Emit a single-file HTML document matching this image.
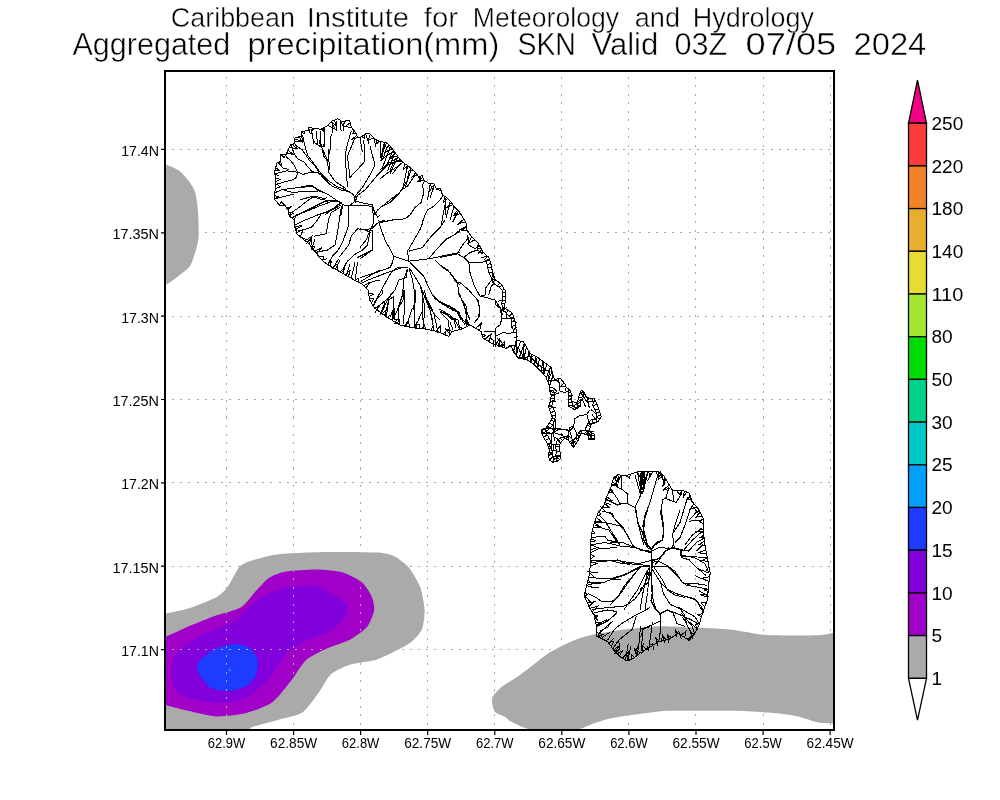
<!DOCTYPE html><html><head><meta charset="utf-8"><style>html,body{margin:0;padding:0;background:#fff;width:1000px;height:800px;overflow:hidden}svg{display:block}text{font-family:"Liberation Sans",sans-serif;fill:#000}</style></head><body>
<svg width="1000" height="800" viewBox="0 0 1000 800" style="will-change:transform">
<defs><clipPath id="fr"><rect x="165" y="71" width="669" height="659"/></clipPath></defs>
<rect width="1000" height="800" fill="#fff"/>
<g clip-path="url(#fr)">
<path d="M150,165 C151.9,151.1 163.1,164.3 166.5,165 C169.9,165.7 176.3,168.8 178.8,170.6 C181.3,172.3 186.1,177.6 188,180 C189.9,182.4 193.6,188 194.7,191 C195.8,194 197.1,202.5 197.5,206 C197.9,209.5 198.4,217.3 198.5,221 C198.6,224.7 198.8,234.5 198.5,238 C198.2,241.5 196.6,247.7 195.6,251 C194.6,254.3 192,263.1 190,266 C188,268.9 181.5,273.6 178.8,275.7 C176.1,277.8 169.9,283 166.5,284 C163.1,285 151.9,297.9 150,284 C148.1,270.1 148.1,178.9 150,165Z" fill="#aaaaaa"/>
<path d="M150,616 C151.9,601.2 161.8,614.3 166.2,613.4 C170.6,612.5 182.2,610.5 188,608.6 C193.8,606.7 211.4,599.9 216,597.4 C220.6,594.9 224.4,591.2 227.2,587.6 C230,584 236.5,569.9 239.8,566.6 C243.1,563.3 250.5,561.1 255.2,559.6 C259.9,558.1 271.9,554.9 280.4,554 C288.9,553.1 316.6,552.2 328,552 C339.4,551.8 370.6,552 378.4,552.6 C386.2,553.2 391.6,555 395.2,556.8 C398.8,558.6 406.3,564.4 409.2,568 C412.1,571.6 418.6,582.7 420.4,587.6 C422.2,592.5 424.4,605.1 424.6,610 C424.8,614.9 423.6,625.7 421.8,629.6 C420,633.5 414.3,640.2 409.2,643.6 C404.1,647 385.3,656.5 378.4,659 C371.5,661.5 356,662.8 350.4,664.6 C344.8,666.4 334.4,671.3 330.8,674.4 C327.2,677.5 322.9,686.8 319.6,691.2 C316.3,695.6 307.4,708.9 302.8,712.2 C298.2,715.5 286.3,717.5 280.4,719.2 C274.5,720.9 257.1,725.2 252.4,727 C247.7,728.8 251.9,733.5 240,735 C228.1,736.5 160.5,753.9 150,740 C139.5,726.1 148.1,630.8 150,616Z" fill="#aaaaaa"/>
<path d="M150,642 C151.9,634.6 161.8,638.4 166.2,636.6 C170.6,634.8 182.2,629.2 188,626.8 C193.8,624.3 209.8,617.9 216,615.6 C222.2,613.3 236.6,610 241.2,607.2 C245.8,604.4 251.9,595.2 255.2,591.8 C258.5,588.4 265.6,580.2 269.2,577.8 C272.8,575.4 280.4,572.4 286,571.4 C291.6,570.4 310.3,569.3 316.8,569.4 C323.3,569.5 336.8,570.7 342,572.2 C347.2,573.7 358.2,579.2 361.6,582 C365,584.8 369.9,592.7 371.4,596 C372.9,599.3 374.7,606.4 374.2,610 C373.7,613.6 370,623.4 367.2,626.8 C364.4,630.2 355.3,636.8 350.4,639.4 C345.5,642 330.4,646.8 325.2,649.2 C320,651.7 309.5,656.8 305.6,660.4 C301.7,664 295.5,675.1 291.6,680 C287.7,684.9 277.6,698.5 272,702.4 C266.4,706.3 250.5,712 244,713.6 C237.5,715.2 222.5,716.7 216,716.4 C209.5,716.1 193.8,712.1 188,710.8 C182.2,709.5 170.6,706.5 166.2,705.2 C161.8,703.9 151.9,707.4 150,700 C148.1,692.6 148.1,649.4 150,642Z" fill="#a000c8"/>
<path d="M318,586.4 C324.9,588.3 343.5,600.4 346.6,604 C349.7,607.6 346.2,614.1 344.4,617.2 C342.6,620.3 335.8,627.6 331.2,630.4 C326.6,633.2 309.9,638.8 304.8,641.4 C299.7,644 290.3,649.6 287.2,652.4 C284.1,655.2 281,662 278.4,665.6 C275.8,669.2 268.8,679.6 265.2,683.2 C261.6,686.8 252.2,694.1 247.6,696.4 C243,698.7 231.2,702.5 225.6,703 C220,703.5 204.8,702.1 199.2,700.8 C193.6,699.5 180.4,695.1 177.2,692 C174,688.9 172,678.8 171.7,674.4 C171.4,670 172.8,658.5 175,654.6 C177.2,650.8 186,644.2 190.4,641.4 C194.8,638.6 207,633 212.4,630.4 C217.8,627.8 232,622.5 236.6,619.4 C241.2,616.3 248.2,607.1 252,604 C255.8,600.9 265.5,594.9 269.6,593 C273.7,591.1 281.6,588.3 287.2,587.5 C292.8,586.7 311.1,584.5 318,586.4Z" fill="#8200dc"/>
<path d="M214.6,649.1 C218.7,647.1 230.3,644.1 234.4,644 C238.5,643.9 247.1,646.2 249.8,648 C252.5,649.8 256.7,655.9 257.5,659 C258.3,662.1 257.6,671.3 256.4,674.4 C255.2,677.5 250.7,683.5 247.6,685.4 C244.5,687.3 234.4,690.7 230,691 C225.6,691.3 213.9,689.8 210.2,687.6 C206.5,685.4 199.4,675.3 198.1,672.2 C196.8,669.1 197.3,663.9 199.2,661.2 C201.1,658.5 210.5,651.1 214.6,649.1Z" fill="#1e3cff"/>
<path d="M228,670.5 C228,670.1 229.2,668.2 229.5,668 C229.8,667.8 230.8,668.6 231,669 C231.2,669.4 231.2,670.7 231,671 C230.8,671.3 229.8,671.6 229.5,671.5 C229.2,671.4 228,670.9 228,670.5Z" fill="#2a78ff"/>
<path d="M492.1,698.3 C492.9,695.4 499.2,689 502,686.6 C504.8,684.2 513,679.9 516.4,677.6 C519.8,675.3 527.2,669.5 530.8,666.8 C534.4,664.1 543.2,656.7 547,654.2 C550.8,651.7 559.6,647 563.2,645.2 C566.8,643.4 573.8,640.2 577.6,638.9 C581.4,637.6 590.6,635 595.6,634 C600.6,633 614.9,630.7 620.8,629.9 C626.7,629.1 641,627.6 646,627.2 C651,626.8 657.1,626.2 664,626.3 C670.9,626.4 697.1,627.6 705,628 C712.9,628.4 726.3,629.2 732,629.8 C737.7,630.4 749,632.8 753.6,633.4 C758.2,634 764,635 771.6,635.2 C779.2,635.4 811.3,635.5 818.4,635.2 C825.5,634.9 829.1,633.4 832.8,633 C836.5,632.6 848,621.4 850,632 C852,642.6 852,713.3 850,724 C848,734.7 836.5,723.6 832.8,723.4 C829.1,723.2 822.6,723.3 818.4,722.5 C814.2,721.7 802.7,717.4 796.8,716.2 C790.9,715 775.6,713.2 768,712.6 C760.4,712 742.1,711 732,710.8 C721.9,710.6 689.5,710.8 681.6,710.8 C673.7,710.8 670.3,710.4 664,710.9 C657.7,711.4 634.3,714.5 628,715.4 C621.7,716.3 614.2,717.5 610,718.5 C605.8,719.5 595.5,722.8 592,724 C588.5,725.2 583.7,728 580,729 C576.3,730 564.7,732.5 560,733 C555.3,733.5 543.7,733.5 540,733 C536.3,732.5 530.3,729.8 528,729 C525.7,728.2 522.1,726.9 520,726 C517.9,725.1 511.7,722 510,721 C508.3,720 507.4,718.3 505.6,717.2 C503.8,716.1 496.4,714 494.8,711.8 C493.2,709.6 491.3,701.2 492.1,698.3Z" fill="#aaaaaa"/>
</g>
<path d="M226.5,76.5V730M293.5,76.5V730M360.5,76.5V730M427.5,76.5V730M494.5,76.5V730M561.5,76.5V730M628.5,76.5V730M695.5,76.5V730M763.5,76.5V730M830.5,76.5V730" stroke="#aaaaaa" stroke-width="1" stroke-dasharray="2 6.5" fill="none" shape-rendering="crispEdges"/>
<path d="M172,149.5H834M172,232.5H834M172,316.5H834M172,399.5H834M172,482.5H834M172,566.5H834M172,649.5H834" stroke="#aaaaaa" stroke-width="1" stroke-dasharray="2 6.2" fill="none" shape-rendering="crispEdges"/>
<g fill="none" stroke="#000" stroke-width="1" shape-rendering="crispEdges">
<polygon points="331.5,121.4 337.6,118.7 342,121.4 349.6,120.5 351.4,127.5 355.7,132.7 357.5,137.1 361,137.1 366.2,133.6 369.7,133.6 375,138.9 379.4,141.5 386.4,142.4 389,145 394.2,151.1 399.5,159 403,162.5 408.2,166 414.4,171.2 418.7,176.6 422.2,175.7 424,180.1 429.2,183.6 433.6,183.6 436.2,188 440.6,188 442.4,195 446.7,197.6 450.2,201.1 454.6,207.2 459,211.6 462.5,216.9 466,223 466.9,230 471,236 477.9,242.9 483.4,252.5 488.9,258 491.6,266.3 493,275.9 495.8,280 501.3,284.1 505.4,291 505.4,300.7 504,307.5 512.3,313 515,321.3 517,336.4 516.2,340.5 523.2,341.4 526.7,347.5 530.2,353.6 537.2,357.1 544.2,362.4 551.2,367.6 553,375.5 554.7,379.9 560,378.1 565.2,384.2 565.6,385 566.2,387.5 570,390 571.2,393.8 571.9,400 572.5,406.7 577,407.4 577.7,401.5 578.8,396.2 581.2,390.6 583.8,391.2 585,394.4 586.8,397.6 594.6,398.9 597.2,404.8 599.8,411.9 601.1,416.5 598.5,421 594.6,423 590.7,424.3 589.4,431.4 594,434 594.6,439.2 588.1,439.9 588.1,435.3 582.3,433.4 580.6,434 578.2,440 575.2,444.8 573.4,447.2 571,444.2 568.6,440.6 565,438.2 560.2,443 559.6,446 560.2,455 560.2,458.6 557.2,461.6 552.4,462.2 549.4,459.8 548.2,455 549.4,450.2 547,443 543.4,437 541.6,433.4 541.6,429.8 545.8,428 547.8,425.6 552.4,417.8 549.8,410 548.5,406.7 550.4,401.5 551.2,396.2 550,391.2 549.5,386 546,377.2 540.7,371.1 533.7,364.1 526.7,359.7 518,358 513.6,351.9 511,345.7 505.7,348.4 491,342.9 482.9,338 481.2,331.5 469.9,325 461.7,329.1 452,331.5 448.7,336.4 437.4,331.5 426,329.1 416.2,328.2 406.5,326.6 400,325 390.7,319.4 381,312.9 374.5,308 369.6,299.9 368,290.1 361.5,283.6 355,280.4 343.6,273.9 332.2,267.4 322.5,260.9 314.4,251.1 308.5,243.2 304,239.9 297.2,234.2 295,227.5 293.9,219.6 289.4,216.2 288.2,210.6 284.9,205 279.2,205 274.7,199.4 274.7,193.7 275.9,182.5 274.6,171.2 277.2,162.5 280.7,161.6 280.7,154.6 286,154.6 290.4,145 293.9,144.1 294.7,138 301.7,136.2 301.7,131.9 308.7,130.1 308.7,127.5 314,128.4 321,129.2 326.2,126.6"/>
<polygon points="617.8,474.8 626.2,475.5 634.6,472.7 640.2,471.3 658.4,471.3 664,476.2 668.2,483.2 672.4,490.2 683.6,490.9 689.2,493 692,501.4 699,509.8 703.2,518.2 703.2,529.4 704.6,543.4 706.7,554.6 710.2,573.2 708.8,583 707.4,599.8 703.2,611 699,625 694.8,633.4 689.2,640.4 678,633.4 669.6,639 658.4,641.8 647.2,648.8 640.2,653 633.2,658.6 627.6,660.7 620.6,657.2 613.6,650.2 608,641.8 596.8,636.2 596.8,627.8 594,615.2 589.8,608.2 584.2,595.6 589.8,573.2 590.5,555 590.5,549 591.2,535 594,523.8 598.2,512.6 603.8,505.6 606.6,497.2 610.8,487.4 613.6,477.6"/>
<polyline points="516.2,340.5 513.6,351.9"/>
<polyline points="516.2,340.5 516.1,355.4"/>
<polyline points="520.7,341.1 516.1,355.4"/>
<polyline points="524.2,343.2 519.1,358.2"/>
<polyline points="524.2,343.2 523.4,359.1"/>
<polyline points="526.5,347.1 523.4,359.1"/>
<polyline points="528.7,351.1 527.5,360.2"/>
<polyline points="528.7,351.1 531.2,362.5"/>
<polyline points="531.6,354.3 531.2,362.5"/>
<polyline points="535.7,356.4 534.7,365.1"/>
<polyline points="535.7,356.4 537.8,368.2"/>
<polyline points="539.5,358.8 537.8,368.2"/>
<polyline points="543.1,361.6 540.8,371.2"/>
<polyline points="543.1,361.6 543.7,374.5"/>
<polyline points="546.8,364.3 543.7,374.5"/>
<polyline points="550.4,367 546.3,377.9"/>
<polyline points="550.4,367 547.9,382"/>
<polyline points="552,371.1 547.9,382"/>
<polyline points="553,375.5 549.5,386"/>
<polyline points="487.4,256.5 484.3,259.5"/>
<polyline points="489.4,259.4 485.6,260.6"/>
<polyline points="490.6,263.4 487.2,264.5"/>
<polyline points="491.7,267.1 487.6,267.7"/>
<polyline points="492.4,272 489,272.5"/>
<polyline points="493.2,276.2 491.1,277.6"/>
<polyline points="495.7,279.8 492.5,282"/>
<polyline points="499.6,282.9 497.1,286.2"/>
<polyline points="502.1,285.4 499.3,287"/>
<polyline points="504.3,289.1 502.1,290.4"/>
<polyline points="505.4,292.7 502.6,292.7"/>
<polyline points="505.4,296 502.8,296"/>
<polyline points="505.4,300.5 502.7,300.5"/>
<polyline points="504.7,303.9 501.5,303.3"/>
<polyline points="504.9,308.1 503.5,310.3"/>
<polyline points="508.2,310.3 506.2,313.3"/>
<polyline points="512.1,312.9 509.8,316.4"/>
<polyline points="513.7,317.3 510.8,318.2"/>
<polyline points="514.9,320.9 511.8,321.9"/>
<polyline points="515.6,325.7 511.2,326.2"/>
<polyline points="516,328.9 513.2,329.3"/>
<polyline points="516.5,332.4 513.6,332.7"/>
<polyline points="484.3,259.5 485.6,260.6 487.2,264.5 487.6,267.7 489,272.5 491.1,277.6 492.5,282 497.1,286.2 499.3,287 502.1,290.4 502.6,292.7 502.8,296 502.7,300.5 501.5,303.3 503.5,310.3 506.2,313.3 509.8,316.4 510.8,318.2 511.8,321.9 511.2,326.2 513.2,329.3 513.6,332.7"/>
<polyline points="569.3,389.5 567.9,391.7"/>
<polyline points="570.8,392.5 568.2,393.3"/>
<polyline points="571.5,396.1 568.9,396.3"/>
<polyline points="571.8,399 569,399.3"/>
<polyline points="572.1,402.2 568.9,402.5"/>
<polyline points="572.4,405.3 568.1,405.7"/>
<polyline points="575.3,407.1 574.9,409.8"/>
<polyline points="577.2,405.6 580.4,406"/>
<polyline points="577.7,401.9 580.3,402.2"/>
<polyline points="578.5,397.3 583,398.2"/>
<polyline points="579.9,393.6 583.1,395"/>
<polyline points="581.2,390.7 583.6,391.8"/>
<polyline points="584.1,392.1 581.3,393.2"/>
<polyline points="586.1,396.3 583.7,397.7"/>
<polyline points="588.4,397.9 587.6,402.2"/>
<polyline points="592.4,398.5 591.9,401.3"/>
<polyline points="595.3,400.6 593.1,401.6"/>
<polyline points="597,404.3 592.9,406.1"/>
<polyline points="598.6,408.7 595,410"/>
<polyline points="599.8,412 596.7,412.9"/>
<polyline points="600.7,415.2 596.8,416.3"/>
<polyline points="599.7,418.9 596.2,416.8"/>
<polyline points="597.4,421.6 596.1,419"/>
<polyline points="593.2,423.5 591.8,419.2"/>
<polyline points="590.3,426.3 586.3,425.6"/>
<polyline points="589.5,430.9 585.6,430.2"/>
<polyline points="591.9,432.8 590.2,435.9"/>
<polyline points="594.2,435.3 591.7,435.6"/>
<polyline points="594.5,438.4 591.5,438.7"/>
<polyline points="591.9,439.5 591.5,435.6"/>
<polyline points="588.1,438.8 591.5,438.8"/>
<polyline points="586.8,434.9 588.2,430.6"/>
<polyline points="582.2,433.4 581.1,430.4"/>
<polyline points="579.9,435.7 577.2,434.6"/>
<polyline points="578.7,438.8 576,437.7"/>
<polyline points="576.6,442.5 573,440.2"/>
<polyline points="574,446.4 571.2,444.3"/>
<polyline points="571.3,444.6 574.6,442.1"/>
<polyline points="569.6,442 572.7,439.9"/>
<polyline points="566,438.9 568.3,435.5"/>
<polyline points="562.7,440.5 560.2,438.1"/>
<polyline points="560.3,442.9 557.4,440"/>
<polyline points="559.6,446.5 555.5,446.7"/>
<polyline points="560,451.4 556.7,451.6"/>
<polyline points="560.2,455.2 555.8,455.2"/>
<polyline points="559.5,459.3 557.5,457.3"/>
<polyline points="557.2,461.6 556.8,458.9"/>
<polyline points="552.4,462.2 555,459"/>
<polyline points="549.8,460.1 552.4,456.9"/>
<polyline points="548.3,455.5 552,454.6"/>
<polyline points="549,451.9 552.5,452.8"/>
<polyline points="548.9,448.8 551.3,448"/>
<polyline points="547.4,444.1 551,442.9"/>
<polyline points="545.5,440.5 549.3,438.2"/>
<polyline points="543.5,437.2 547.2,435"/>
<polyline points="541.6,433 544.5,433"/>
<polyline points="541.9,429.7 543.1,432.5"/>
<polyline points="545.1,428.3 546.5,431.7"/>
<polyline points="547.5,425.9 550.1,428"/>
<polyline points="549.2,423.1 553,425.3"/>
<polyline points="551.1,419.9 554.1,421.7"/>
<polyline points="551.9,416.2 556,414.8"/>
<polyline points="550.7,412.6 554.8,411.2"/>
<polyline points="549.3,408.8 552.6,407.5"/>
<polyline points="549.1,405 551.5,405.9"/>
<polyline points="550.4,401.3 553.2,401.8"/>
<polyline points="550.9,398.4 555,399"/>
<polyline points="551,395.1 554.3,394.3"/>
<polyline points="550,390.8 553.6,390.4"/>
<polyline points="567.9,391.7 568.2,393.3 568.9,396.3 569,399.3 568.9,402.5 568.1,405.7 574.9,409.8 580.4,406 580.3,402.2 583,398.2 583.1,395 583.6,391.8 581.3,393.2 583.7,397.7 587.6,402.2 591.9,401.3 593.1,401.6 592.9,406.1 595,410 596.7,412.9 596.8,416.3 596.2,416.8 596.1,419 591.8,419.2 586.3,425.6 585.6,430.2 590.2,435.9 591.7,435.6 591.5,438.7 591.5,435.6 591.5,438.8 588.2,430.6 581.1,430.4 577.2,434.6 576,437.7 573,440.2 571.2,444.3 574.6,442.1 572.7,439.9 568.3,435.5 560.2,438.1 557.4,440 555.5,446.7 556.7,451.6 555.8,455.2 557.5,457.3 556.8,458.9 555,459 552.4,456.9 552,454.6 552.5,452.8 551.3,448 551,442.9 549.3,438.2 547.2,435 544.5,433 543.1,432.5 546.5,431.7 550.1,428 553,425.3 554.1,421.7 556,414.8 554.8,411.2 552.6,407.5 551.5,405.9 553.2,401.8 555,399 554.3,394.3 553.6,390.4"/>
<polyline points="331.5,121.4 335.3,125.5 334.9,119.9"/>
<polyline points="340.1,120.3 343.1,125.7 345.2,121"/>
<polyline points="350.2,122.9 345,126.7 351.4,127.4"/>
<polyline points="354,130.6 352.9,133.8 356,133.5"/>
<polyline points="356.9,135.6 351.3,139.4 358.6,137.1"/>
<polyline points="361.7,136.7 364.6,138.3 364.1,135"/>
<polyline points="370.4,134.3 367.8,140.5 374,137.9"/>
<polyline points="376.7,139.9 376,144.2 379.5,141.5"/>
<polyline points="383.9,142.1 384.7,147.2 386.7,142.7"/>
<polyline points="389,145 384.8,152.1 392.5,149.1"/>
<polyline points="395.5,153.1 390,158.8 397.3,155.8"/>
<polyline points="399.3,158.7 398.7,161.8 401.8,161.3"/>
<polyline points="404.9,163.8 403.6,169.2 408.1,165.9"/>
<polyline points="410.3,167.7 410.2,171 413.4,170.3"/>
<polyline points="415.6,172.6 412.7,176.7 417.3,174.8"/>
<polyline points="418.4,176.2 420.5,180.4 420.7,176.1"/>
<polyline points="422.8,177 418.5,181.1 424.8,180.6"/>
<polyline points="430.3,183.6 432.5,190 434.2,184.6"/>
<polyline points="439.4,188 436.6,189.7 441.2,190.4"/>
<polyline points="445.1,196.6 443,203 447.5,198.4"/>
<polyline points="451.3,202.6 446.3,207.8 452.8,204.7"/>
<polyline points="457.6,210.2 453.7,215.4 460.3,213.6"/>
<polyline points="463.9,219.4 460,223.3 465.4,221.9"/>
<polyline points="466.4,226.5 459.9,229.8 467.7,231.2"/>
<polyline points="471.7,236.7 468,243.5 474.8,239.8"/>
<polyline points="478.6,244.2 476.5,248 480.9,248.2"/>
<polyline points="481.8,249.6 478.6,253.1 483.2,252.2"/>
<polyline points="555.9,379.5 558.6,382.4 559,378.4"/>
<polyline points="564.3,383.1 560.2,386.9 565.8,385.8"/>
<polyline points="504.1,347.8 504.3,341.7 500.4,346.4"/>
<polyline points="499,345.9 499.9,338.1 495.6,344.6"/>
<polyline points="489.3,341.9 491.2,333.8 485,339.2"/>
<polyline points="482.7,337.3 485.6,335.1 482,334.6"/>
<polyline points="479.7,330.6 481.6,322.9 475.8,328.4"/>
<polyline points="470.4,325.3 465.4,319.7 466.5,326.7"/>
<polyline points="462.4,328.7 459.8,326.8 458.5,329.9"/>
<polyline points="452.1,331.5 444.9,328.5 450.3,334.1"/>
<polyline points="446,335.2 445.8,331.6 442.9,333.9"/>
<polyline points="440,332.6 440.5,325.9 435.9,331.2"/>
<polyline points="433.7,330.7 433.5,325.2 431.1,330.2"/>
<polyline points="425.9,329.1 424.4,325.2 422.2,328.8"/>
<polyline points="416.9,328.3 416.3,324 414.3,327.9"/>
<polyline points="409.9,327.2 408.2,320.8 404.6,326.1"/>
<polyline points="397.9,323.7 398.2,319.5 394.5,321.7"/>
<polyline points="391.9,320.1 393.1,313.4 387.4,317.2"/>
<polyline points="384.5,315.2 386.3,310.1 382.3,313.8"/>
<polyline points="377.6,310.3 378.4,306.1 374.6,308.1"/>
<polyline points="371.5,303.1 373.4,298.9 369.3,298.4"/>
<polyline points="369.1,296.7 373.5,294.2 368.5,293.2"/>
<polyline points="366,288.1 369.8,282.2 363.8,285.9"/>
<polyline points="358.8,282.3 358.6,278.1 355.2,280.5"/>
<polyline points="348.4,276.6 350.4,269.7 345.4,274.9"/>
<polyline points="342.8,273.5 344.8,266.9 340.1,271.9"/>
<polyline points="337.1,270.2 337.4,264.3 332.5,267.5"/>
<polyline points="330.2,266 331.5,261.2 327.5,264.3"/>
<polyline points="322.7,261 323.5,256.9 319.3,257"/>
<polyline points="316.7,253.8 321.7,247.6 314.7,251.4"/>
<polyline points="313.2,249.5 314.7,246.7 311.6,247.4"/>
<polyline points="309.2,244.1 311.7,236.4 305.2,240.8"/>
<polyline points="300.4,236.9 303.2,229.3 296.8,232.9"/>
<polyline points="295.6,229.5 302.4,225.6 294.9,226.5"/>
<polyline points="294,220.2 297.1,214.3 292.3,218.4"/>
<polyline points="289.3,215.9 293.2,213.2 288.6,212.4"/>
<polyline points="287.8,209.9 290.6,206.8 286.5,207.8"/>
<polyline points="284.3,205 281.6,201.8 279.1,204.8"/>
<polyline points="274.7,198.6 279.2,197 274.7,195.5"/>
<polyline points="275.2,188.6 280.4,186.7 275.8,183.7"/>
<polyline points="275.8,181.9 280.1,179.4 275.4,178"/>
<polyline points="274.8,170.6 279.5,170.4 275.7,167.6"/>
<polyline points="279.1,162 281.5,166.3 280.7,160.7"/>
<polyline points="281.4,154.6 283.8,157.3 286.1,154.4"/>
<polyline points="286.8,152.8 294.2,154.8 287.9,150.4"/>
<polyline points="289.2,147.5 297,148.5 292.3,144.5"/>
<polyline points="294.2,142.1 302.1,141.4 294.6,138.8"/>
<polyline points="299.3,136.8 302.5,142.6 301.7,135.4"/>
<polyline points="301.8,131.9 304,133.9 305,131.1"/>
<polyline points="308.7,127.5 310.3,133.8 313.8,128.4"/>
<polyline points="321.4,129 324.2,131.8 323.7,127.9"/>
<polyline points="327.5,125.4 334.8,129 331.3,121.6"/>
<polyline points="617.8,474.8 619,479.8 621,475.1"/>
<polyline points="625.7,475.5 629.4,478.1 630.8,474"/>
<polyline points="637.2,472.1 641.2,478.3 641.8,471.3"/>
<polyline points="648.3,471.3 650.5,475.6 652.7,471.3"/>
<polyline points="656.2,471.3 658,478.1 659.5,472.2"/>
<polyline points="661,473.6 657.8,479.6 663.3,475.6"/>
<polyline points="665.1,478.1 663.5,480.6 666.5,480.4"/>
<polyline points="669.1,484.8 663.3,490.3 670.9,487.7"/>
<polyline points="676.8,490.5 679.3,494.6 682.2,490.8"/>
<polyline points="684.2,491.1 683.7,496.5 686.8,492.1"/>
<polyline points="690.3,496.4 687.3,499.4 691.5,500"/>
<polyline points="693.8,503.5 690.4,509.2 696.6,506.9"/>
<polyline points="700.2,512.1 695.8,517.1 702.4,516.6"/>
<polyline points="703.2,518.7 699.1,521.2 703.2,523.7"/>
<polyline points="703.2,528.9 696.8,531.4 703.5,532.5"/>
<polyline points="703.8,535.3 700.1,537.3 704.1,538.5"/>
<polyline points="704.4,541 699,544.6 705.1,546.1"/>
<polyline points="705.8,549.7 698.3,552.9 706.5,553.3"/>
<polyline points="707.3,558 700.8,560.9 707.9,561.1"/>
<polyline points="709,566.8 706.5,570 710,572.2"/>
<polyline points="709.7,576.7 702.3,578.2 709,581.6"/>
<polyline points="708.3,589 704.1,590 708.1,591.6"/>
<polyline points="707.9,593.9 699.9,594.8 707.6,597"/>
<polyline points="706.5,602.1 701.4,603 704.7,607"/>
<polyline points="702.4,613.8 698.1,614.5 701.3,617.5"/>
<polyline points="699.4,623.7 695.6,624.8 697.2,628.6"/>
<polyline points="694.8,633.4 690.5,632.8 692.1,636.8"/>
<polyline points="689.6,639.9 690.5,636.9 687.3,639.2"/>
<polyline points="684.6,637.6 686,631.3 681,635.3"/>
<polyline points="678.6,633.8 675.2,630.1 676.5,634.4"/>
<polyline points="671.6,637.7 668,635 668.9,639.2"/>
<polyline points="666.2,639.9 662.5,635.1 661.4,641"/>
<polyline points="659.6,641.5 655.8,637.9 657.1,642.6"/>
<polyline points="652.8,645.3 649.3,643.9 649,647.7"/>
<polyline points="646.8,649 642.4,646.1 642.9,651.4"/>
<polyline points="640.1,653.1 633.9,648.1 637.4,655.3"/>
<polyline points="634.6,657.5 631.4,654.5 631,659.4"/>
<polyline points="627.1,660.4 628.4,652.2 622.5,658.2"/>
<polyline points="619.4,656 622.9,650.3 617.2,653.8"/>
<polyline points="615.2,651.8 619.6,645.6 613.5,650"/>
<polyline points="611.1,646.4 613.7,641.7 608.3,642.3"/>
<polyline points="602.1,638.8 601.9,634.9 598.6,637.1"/>
<polyline points="597.2,636.4 602.8,634.5 596.8,632.5"/>
<polyline points="596.2,625.1 601.7,622.5 595.6,622.4"/>
<polyline points="594.8,618.6 597.5,615.9 593.7,614.7"/>
<polyline points="592,611.9 597.5,606.2 589.9,608.4"/>
<polyline points="589,606.4 594.5,601.8 587.4,602.8"/>
<polyline points="584.2,595.6 587.7,594.9 584.9,592.6"/>
<polyline points="586.8,585.2 592.4,583.9 588.1,580"/>
<polyline points="588.6,578.2 593.7,576.8 589.8,573.1"/>
<polyline points="590.1,565.7 597.2,563.8 590.3,561.3"/>
<polyline points="590.4,558.8 594.2,556.5 590.5,553.9"/>
<polyline points="590.5,549.8 597.6,547.6 590.7,544.8"/>
<polyline points="590.8,542.1 595.6,540.8 591,538.9"/>
<polyline points="591.4,534.1 594.9,533.1 592.3,530.6"/>
<polyline points="593.1,527.6 600.8,527.1 594.3,523"/>
<polyline points="594.9,521.4 601.9,521.8 596.4,517.5"/>
<polyline points="597,515.8 600.8,514.6 599.2,511.4"/>
<polyline points="602.5,507.2 609.5,507.4 604.5,503.6"/>
<polyline points="605.6,500.3 611.6,500.3 606.8,496.7"/>
<polyline points="608.5,492.8 613.9,492.7 610.3,488.7"/>
<polyline points="611.6,484.5 617.6,484.9 612.3,482.1"/>
<polyline points="613.6,477.6 618.7,482.3 616.3,475.8"/>
<polyline points="291,145.3 294.8,155 298.5,159.5 303.8,161.8 307.5,166.3 312,171.5 318,173 322.5,176 327,182 330,184.3"/>
<polyline points="294,140 295.5,145.3 302.3,149.8 305.3,154.3 309.8,161 316.5,167.8 319.5,173.8"/>
<polyline points="285.8,156.5 291,161 294.8,166.3 297.8,172.3 296.3,177.5 292.5,179.8 279,183.5 275.3,184.3"/>
<polyline points="275.3,173.8 286.5,170.8 292.5,171.5 298.5,172.3 303,174.5 309.8,172.3 318,172.3"/>
<polyline points="282.8,189.5 295.5,188 303.8,186.5 311.3,185 317.3,190.3 324,192.5 330,195.5"/>
<polyline points="275.3,192.5 282,189.5 292.5,192.5 300,191.8 309,191.8 318,191"/>
<polyline points="275.3,198.5 285,196.3 294,194"/>
<polyline points="280.5,155 285,158"/>
<polyline points="277.5,162.5 283.5,168.5 288.8,169.3"/>
<polyline points="274.5,173.8 279,176"/>
<polyline points="313.5,140 315,143 321.8,147.5 324,156.5 328.5,162.5"/>
<polyline points="319.5,140 320.3,146 324,146 324,140"/>
<polyline points="328.5,149 329.3,170"/>
<polyline points="302.5,135 305,146.2 307.5,155 315,165 321.2,173.8 327.5,180 336.2,186.2 346.2,190 351.2,192.5"/>
<polyline points="320,173.8 323.8,178.8 332.5,186.2 341.2,190 347.5,191.2 352.5,193.8 355,197.5 353.8,202.5 350,205 343.8,205 336.2,200 328.8,195 318.8,190 312.5,186.2 300,187.5"/>
<polyline points="331.2,133.8 330,150 327.5,161.2 328.8,172.5 335,181.2 346.2,188.8"/>
<polyline points="320,131.2 321.2,146.2 326.2,157.5 327.5,162.5"/>
<polyline points="351.2,131.2 347.5,143.8 345,156.2 346.2,170 347.5,187.5"/>
<polyline points="355,137.5 347.5,156.2 350,177.5"/>
<polyline points="363.8,140 365,161.2 350,177.5"/>
<polyline points="370,146.2 375,165 370,175 362.5,187.5 355,196.2"/>
<polyline points="400,160 387.5,165 377.5,175 365,190 355,197.5"/>
<polyline points="400,192.5 390,200 377.5,210 375,215"/>
<polyline points="355,201.2 372.5,205 375,215"/>
<polyline points="300,200 312.5,196.2 321.2,197.5 328.8,202.5"/>
<polyline points="303.8,212.5 318.8,206.2 332.5,201.2 340,201.2"/>
<polyline points="325,215 337.5,205 342.5,202.5"/>
<polyline points="342.5,205 341.2,215"/>
<polyline points="348.8,205 348.8,215"/>
<polyline points="311.2,128.8 313.8,143.8"/>
<polyline points="316.2,131.2 317.5,143.8"/>
<polyline points="325,127.5 323.8,147.5"/>
<polyline points="332.5,122.5 332.5,132.5"/>
<polyline points="336.2,121.2 336.2,131.2"/>
<polyline points="340,121.2 341.2,131.2"/>
<polyline points="343.8,122.5 343.8,131.2"/>
<polyline points="360,137.5 362.5,152.5"/>
<polyline points="366.2,135 368.8,143.8"/>
<polyline points="373.8,137.5 376.2,147.5"/>
<polyline points="380,141.2 380,157.5"/>
<polyline points="385,143.8 381.2,160"/>
<polyline points="390,147.5 382.5,167.5"/>
<polyline points="395,152.5 387.5,171.2"/>
<polyline points="397.5,157.5 390,173.8"/>
<polyline points="290,213.8 298.8,207.5 310,198.8 313.8,196.9 321.2,199.4 327.5,197.5"/>
<polyline points="292.5,217.5 302.5,212.5 315,206.2 325,201.2 335,200 341.2,202.5"/>
<polyline points="295,225 302.5,221.2 317.5,215 325,212.5 332.5,208.8 341.2,205"/>
<polyline points="297.5,231.2 311.2,227.5 317.5,220 321.2,213.8 330,211.2 338.8,206.2"/>
<polyline points="313.8,236.2 326.2,233.8 328.8,218.8 331.2,212.5 340,207.5"/>
<polyline points="315,252.5 327.5,250 335,245 337.5,232.5 341.2,207.5 342.5,205"/>
<polyline points="348.8,205 348.8,225 342.5,242.5 337.5,251.2 332.5,256.2 327.5,265"/>
<polyline points="338.8,257.5 343.8,251.2 348.8,245 351.2,236.2 357.5,228.8 365,230 370,232.5 367.5,245 362.5,250 353.8,255 347.5,261.2 342.5,270"/>
<polyline points="357.5,257.5 372.5,250 372.5,231.2 370,230"/>
<polyline points="348.8,205 372.5,206.2 373.8,222.5 370,230"/>
<polyline points="355,202.5 357.5,195"/>
<polyline points="372.5,206.2 377.5,217.5 380,215"/>
<polyline points="361.2,281.2 375,272.5 380,270"/>
<polyline points="365,285 373.8,281.2 380,280"/>
<polyline points="301.2,237.5 311.2,241.2"/>
<polyline points="306.2,243.8 311.2,237.5 312.5,250"/>
<polyline points="311.2,250 315,238.8"/>
<polyline points="321.2,260 327.5,258.8"/>
<polyline points="332.5,268.8 338.8,258.8"/>
<polyline points="335,270 340,260"/>
<polyline points="342.5,272.5 346.2,262.5"/>
<polyline points="346.2,276.2 350,263.8"/>
<polyline points="351.2,278.8 355,262.5"/>
<polyline points="355,281.2 357.5,262.5"/>
<polyline points="380,178.8 390,171.2 396.2,167.5 402.5,162.5"/>
<polyline points="380,170 390,162.5 397.5,157.5"/>
<polyline points="380,161.2 387.5,155 395,151.2"/>
<polyline points="380,207.5 390,202.5 398.8,193.8 402.5,188.8 407.5,180 408.8,171.2 411.2,168.8"/>
<polyline points="380,222.5 392.5,220 405,218.8 410,215 415,207.5 421.2,202.5 423.8,192.5 422.5,185 425,180"/>
<polyline points="420,230 425,215 427.5,210 433.8,206.2 440,200 442.5,196.2"/>
<polyline points="427.5,200 428.8,192.5 432.5,186.2"/>
<polyline points="400,191.2 407.5,186.2 412.5,178.8 416.2,175"/>
<polyline points="445,205 442.5,217.5 441.2,226.2"/>
<polyline points="383.8,143.8 381.2,157.5"/>
<polyline points="387.5,146.2 382.5,160"/>
<polyline points="392.5,151.2 387.5,163.8"/>
<polyline points="396.2,157.5 390,170"/>
<polyline points="401.2,162.5 392.5,173.8"/>
<polyline points="407.5,166.2 402.5,190"/>
<polyline points="411.2,170 405,187.5"/>
<polyline points="430,185 427.5,200"/>
<polyline points="433.8,187.5 430,197.5"/>
<polyline points="445,197.5 445,215"/>
<polyline points="450,202.5 446.2,217.5"/>
<polyline points="453.8,207.5 450,220"/>
<polyline points="457.5,212.5 452.5,222.5"/>
<polyline points="462.5,220 457.5,225"/>
<polyline points="408.8,261.2 393.8,256.2 391.2,251.2 385,240 380,226.2 378.8,220"/>
<polyline points="393.8,256.2 392.5,262.5 390,267.5 376.2,272.5 360,277.5"/>
<polyline points="408.8,261.2 407.5,251.2 411.2,245 417.5,233.8 422.5,223.8 422.5,220"/>
<polyline points="408.8,261.2 428.8,258.8 447.5,255 460,252.5"/>
<polyline points="428.8,258.8 435,251.2 447.5,238.8 460,231.2"/>
<polyline points="408.8,251.2 422.5,247.5 431.2,236.2 440,227.5 445,220"/>
<polyline points="410,262.5 417.5,270 423.8,276.2 427.5,285 432.5,295 440,302.5 452.5,310 460,312.5"/>
<polyline points="435,260 442.5,267.5 450,272.5 457.5,282.5 460,285"/>
<polyline points="407.5,267.5 402.5,267.5 397.5,267.5 391.2,272.5 386.2,281.2 378.8,295 373.8,305"/>
<polyline points="402.5,267.5 387.5,272.5 371.2,278.8 362.5,282.5"/>
<polyline points="407.5,268.8 406.2,277.5 398.8,280 395,290 387.5,298.8 380,305"/>
<polyline points="407.5,268.8 403.8,280 402.5,295 397.5,310 392.5,320"/>
<polyline points="408.8,267.5 412.5,280 415,295 413.8,307.5 415,320"/>
<polyline points="410,268.8 420,285 425,297.5 430,310 432.5,320"/>
<polyline points="420,285 422.5,295 425,307.5 423.8,320"/>
<polyline points="425,295 430,307.5 435,315 440,320"/>
<polyline points="360,247.5 366.2,240 370,230 378.8,222.5 385,220"/>
<polyline points="360,228.8 367.5,230 373.8,226.2 380,221.2"/>
<polyline points="372.5,230 372.5,250 360,258.8"/>
<polyline points="380,305 375,312.5"/>
<polyline points="385,302.5 380,315"/>
<polyline points="388.8,300 386.2,317.5"/>
<polyline points="393.8,297.5 392.5,318.8"/>
<polyline points="440,245 446.2,238.8 453.8,235 460,230 465,228.8"/>
<polyline points="440,257.5 457.5,253.8 463.8,257.5 468.8,262.5 481.2,262.5 490,260"/>
<polyline points="457.5,253.8 462.5,245 468.8,237.5"/>
<polyline points="468.8,262.5 470,272.5 473.8,285 480,296.2 485,295 485,288.8 492.5,278.8 495,280"/>
<polyline points="488.8,295 491.2,286.2 493.8,283.8"/>
<polyline points="440,265 447.5,270 452.5,276.2 456.2,282.5 460,282.5 468.8,290 477.5,300 480,310 477.5,320"/>
<polyline points="457.5,282.5 458.8,295 463.8,302.5 466.2,315 466.2,320"/>
<polyline points="440,302.5 450,306.2 456.2,310 461.2,320"/>
<polyline points="440,311.2 447.5,315 452.5,320"/>
<polyline points="481.2,296.2 495,300 500,307.5 502.5,315"/>
<polyline points="463.8,257.5 470,252.5 477.5,250 482.5,253.8"/>
<polyline points="467.5,235 468.8,245 475,248.8 480,245"/>
<polyline points="481.2,257.5 488.8,256.2"/>
<polyline points="491.2,267.5 495,278.8"/>
<polyline points="497.5,301.2 505,300"/>
<polyline points="500,310 507.5,307.5"/>
<polyline points="393,296 394,319"/>
<polyline points="398,320 399,307 403,300 404,290"/>
<polyline points="403,324 404,315 405,305 404,290"/>
<polyline points="406,327 412,309 414,308 414,328"/>
<polyline points="414,328 415,303 415,290"/>
<polyline points="417,323 422,312 424,328"/>
<polyline points="422,290 422,313"/>
<polyline points="424,290 427,300 430,310 432,320 434,329"/>
<polyline points="425,296 430,305 434,314 436,323 438,333"/>
<polyline points="430,290 435,299 450,307 458,312 462,320 465,325"/>
<polyline points="439,309 450,315 455,320 460,330"/>
<polyline points="440,312 448,320 450,334"/>
<polyline points="458,290 462,301 466,310 470,320"/>
<polyline points="374,302 382,294 383,290"/>
<polyline points="376,310 382,303 389,298 395,290"/>
<polyline points="381,314 387,301 393,297"/>
<polyline points="385,315 388,303"/>
<polyline points="390,317 394,308 394,320"/>
<polyline points="394,323 399,323 399,319 394,319"/>
<polyline points="415,328 415,324 419,324 420,328"/>
<polyline points="495,300 496,305 500,308 502,318 500,325 496,328 495,333 496,347"/>
<polyline points="502,318 514,319"/>
<polyline points="484,331 495,332"/>
<polyline points="496,336 504,332 508,334 514,332"/>
<polyline points="497,338 502,343 503,347"/>
<polyline points="509,345 514,345 520,350"/>
<polyline points="513,349 517,357 522,358 526,352"/>
<polyline points="450,307 458,312 463,320 470,326"/>
<polyline points="462,300 466,306 467,320 470,326"/>
<polyline points="478,300 480,310 479,317 474,323"/>
<polyline points="519,350 526,360"/>
<polyline points="522,358 533,356"/>
<polyline points="530,356 538,365"/>
<polyline points="535,362 546,370"/>
<polyline points="540,370 550,370"/>
<polyline points="488,342 490,338 493,340 494,347"/>
<polyline points="498,347 500,340 504,346"/>
<polyline points="450,316 454,320 456,328"/>
<polyline points="453,318 458,320 460,329"/>
<polyline points="450,322 453,330"/>
<polyline points="501,310 506,312 506,318"/>
<polyline points="513,320 517,323"/>
<polyline points="514,329 517,327"/>
<polyline points="514,338 518,336"/>
<polyline points="552.4,417.8 555,418.4 555.6,428.8 567.3,429.5 569.9,431.4 573.8,426.2 574.5,419.1 579,415.8 586.8,414.5 589.4,410"/>
<polyline points="573.8,426.2 569.9,427.5 568.6,431.4"/>
<polyline points="586.8,414.5 589.4,424.3"/>
<polyline points="548.5,406.7 556.3,407.4"/>
<polyline points="550.4,401.5 556.3,401.5"/>
<polyline points="542,429.5 547.8,427.5 555.6,428.8"/>
<polyline points="542,434 547.8,432.7 553,433.4 555.6,428.8"/>
<polyline points="553,433.4 555,440.5"/>
<polyline points="561.5,433.4 564.7,439.2"/>
<polyline points="577.7,434 579,440.5"/>
<polyline points="569.9,431.4 573.8,445"/>
<polyline points="590.7,409.3 597.2,414.5"/>
<polyline points="592,414.5 595.9,419.7"/>
<polyline points="589.4,424.3 598.5,421"/>
<polyline points="571.2,400.9 576.4,402.8 582.3,398.9"/>
<polyline points="576.4,402.8 579,406.7"/>
<polyline points="582.3,398.9 585.5,406.7"/>
<polyline points="586.8,397.6 589.4,408"/>
<polyline points="589.4,431.4 594,431.4"/>
<polyline points="588.1,435.3 594.6,435.3"/>
<polyline points="572.5,406.7 577.1,403.5"/>
<polyline points="541.6,429.8 548.2,428.6 552.4,428.6 554.8,432.2 559,428.6 566.2,429.8 568.6,431 573.4,426.8 574,425"/>
<polyline points="541.6,433.4 550,434 552.4,432.8 554.8,432.8 562,435.2 565,438.2"/>
<polyline points="551.2,434 551.8,444.2 559.6,444.2"/>
<polyline points="554.8,432.2 553,425"/>
<polyline points="554.2,437 559,440 560.2,443"/>
<polyline points="568.6,431 568.6,440.6"/>
<polyline points="573.4,426.8 577,434 576.4,440"/>
<polyline points="578.2,434 586,432.8 587.8,435.8"/>
<polyline points="548.8,444.2 553,452 548.2,455"/>
<polyline points="553,444.2 553.6,450.2 559,452"/>
<polyline points="553,456.2 560.2,456.2"/>
<polyline points="553,457.4 554.2,461.6"/>
<polyline points="556.6,456.2 556,461.6"/>
<polyline points="551.2,380.6 555,380 558.8,380"/>
<polyline points="547.5,381.2 553.1,380.6"/>
<polyline points="548.8,386.9 553.8,388.1 556.9,391.2"/>
<polyline points="549.4,391.2 558.8,393.8"/>
<polyline points="551.2,396.2 558.8,392.5"/>
<polyline points="550.6,401.2 555,400.6"/>
<polyline points="558.8,380 560,391.2 565,392.5"/>
<polyline points="565.6,387.5 566.2,392.5"/>
<polyline points="570,390 565,392.5"/>
<polyline points="569.4,395 572.5,395"/>
<polyline points="570,398.8 572.5,397.5"/>
<polyline points="573.8,402.5 578.8,403.8"/>
<polyline points="615,476.2 617.5,487.5 621.2,488.8 627.5,493.8 627.5,503.8 635,507.5 641.2,493.8 642.5,491.2"/>
<polyline points="635,507.5 637.5,520 640,531.2 643.8,545"/>
<polyline points="605,498.8 610,501.2 617.5,505 621.2,503.8 627.5,503.8"/>
<polyline points="610,490 615,495 618.8,501.2 620,505"/>
<polyline points="602.5,511.2 612.5,513.8 613.8,517.5 621.2,526.2 627.5,535 633.8,547.5"/>
<polyline points="595,522.5 605,522.5 621.2,526.2"/>
<polyline points="598.8,515 605,521.2 616.2,538.8 620,545"/>
<polyline points="595,525 600,527.5 608.8,530 617.5,542.5"/>
<polyline points="591.2,537.5 605,536.2 607.5,540 617.5,542.5"/>
<polyline points="590,545 605,542.5 621.2,546.2 635,547.5 650,552.5"/>
<polyline points="591.2,552.5 598.8,548.8 617.5,547.5"/>
<polyline points="591.2,562.5 617.5,560 630,565"/>
<polyline points="645,515 650,502.5"/>
<polyline points="642.5,527.5 645,515"/>
<polyline points="635,475 640,492.5"/>
<polyline points="637.5,472.5 641.2,492.5"/>
<polyline points="640,472.5 642.5,490"/>
<polyline points="642.5,472.5 643.8,490"/>
<polyline points="645,472.5 643.8,492.5"/>
<polyline points="647.5,473.8 642.5,493.8"/>
<polyline points="621.2,475 621.2,488.8"/>
<polyline points="600,506.2 605,511.2"/>
<polyline points="605,502.5 611.2,505"/>
<polyline points="611.2,485 617.5,486.2"/>
<polyline points="658.8,471.2 650,502.5 645,515 643.8,530 647.5,545 651.2,550"/>
<polyline points="640,472.5 640,495"/>
<polyline points="643.8,472.5 641.2,490"/>
<polyline points="647.5,472.5 643.8,485"/>
<polyline points="651.2,472.5 647.5,481.2"/>
<polyline points="668.8,487.5 666.2,497.5 662.5,500 661.2,510 663.8,527.5 662.5,540 655,545 651.2,550"/>
<polyline points="666.2,498.8 676.2,502.5 680,496.2 681.2,492.5"/>
<polyline points="687.5,497.5 680,522.5 672.5,533.8 673.8,545 675,548.8"/>
<polyline points="640,550 651.2,551.2 658.8,547.5 675,548.8 681.2,550"/>
<polyline points="651.2,551.2 652.5,565"/>
<polyline points="668.8,547.5 658.8,560 655,565"/>
<polyline points="681.2,550 681.2,556.2 707.5,557.5"/>
<polyline points="688.8,521.2 702.5,520"/>
<polyline points="688.8,520 696.2,512.5 700,510"/>
<polyline points="683.8,550 692.5,540 702.5,531.2"/>
<polyline points="687.5,552.5 696.2,542.5 703.8,538.8"/>
<polyline points="685,545 692.5,535 702.5,527.5"/>
<polyline points="696.2,551.2 702.5,545 706.2,546.2"/>
<polyline points="688.8,510 692.5,506.2 698.8,513.8"/>
<polyline points="665,477.5 662.5,487.5"/>
<polyline points="660,471.2 665,485"/>
<polyline points="672.5,491.2 673.8,501.2"/>
<polyline points="681.2,491.2 681.2,495"/>
<polyline points="591,560.5 597.9,560.5 610.3,560.5 621.3,563.3 640.5,564.6 650,566"/>
<polyline points="591,577 597.9,578.4 611.6,578.4 621.3,575.6 628.1,572.9 640.5,566"/>
<polyline points="589.6,582.5 603.4,582.5 610.3,579.8 621.3,579.8"/>
<polyline points="588.3,593.5 596.5,597.6 602,601.8 611.6,601.8 618.5,596.3 625.4,586.6 632.3,577 640.5,566"/>
<polyline points="592.4,610 597.9,608.6 611.6,607.3 625.4,605.9 635,599 641.9,589.4 647.4,578.4 650,568.8"/>
<polyline points="593.8,612.8 600.6,611.4 607.5,610 615.8,611.4 617.1,612.8"/>
<polyline points="596.5,626.5 607.5,621 617.1,612.8"/>
<polyline points="597.9,634.8 603.4,629.3 613,621"/>
<polyline points="607.5,640.3 614.4,629.3 621.3,623.8 628.1,619.6 635,615.5 646,610 650,607.3"/>
<polyline points="636.4,615.5 632.3,629.3 618.5,640.3 613,648.5"/>
<polyline points="618.5,640.3 619.9,648.5 614.4,654"/>
<polyline points="640.5,626.5 639.1,643 635,654"/>
<polyline points="650,626.5 643.3,629.3 640.5,637.5"/>
<polyline points="586.9,571.5 597.9,572.9"/>
<polyline points="588.3,582.5 600.6,583.9"/>
<polyline points="588.3,586.6 599.3,588"/>
<polyline points="585.5,596.3 592.4,604.5"/>
<polyline points="593.8,614.1 597.9,621"/>
<polyline points="597.9,623.8 607.5,619.6"/>
<polyline points="600.6,630.7 608.9,626.5"/>
<polyline points="625.4,660.9 628.1,644.4"/>
<polyline points="628.1,659.5 630.9,645.8"/>
<polyline points="636.4,656.8 639.1,645.8"/>
<polyline points="641.9,654 643.3,643"/>
<polyline points="602,637.5 610.3,632"/>
<polyline points="607.5,644.4 614.4,637.5"/>
<polyline points="640,563.3 651,560.5 657.9,559.1 662,555"/>
<polyline points="651,555 652.4,560.5 651,567.4"/>
<polyline points="652.4,566 648.3,582.5 640,589.4"/>
<polyline points="651,567.4 652.4,592.1 651,600.4 655.1,608.6 660.6,614.1"/>
<polyline points="648.3,568.8 642.8,593.5 640,610"/>
<polyline points="651,567.4 660.6,582.5 663.4,593.5 670.3,604.5 679.9,608.6 684,614.1 686.8,623.8"/>
<polyline points="653.8,566 667.5,566 677.1,575.6 682.6,582.5 686.8,585.3 695,586.6 708.8,589.4"/>
<polyline points="660.6,582.5 667.5,589.4 675.8,593.5 685.4,596.3 695,599 701.9,607.3 703.3,612.8"/>
<polyline points="659.3,614.1 667.5,610 673,612.8 677.1,623.8 685.4,626.5"/>
<polyline points="660.6,614.1 660.6,627.9 659.3,640.3"/>
<polyline points="652.4,622.4 649.6,643 648.3,651.3"/>
<polyline points="642.8,627.9 641.4,651.3"/>
<polyline points="667.5,610 678.5,614.1 690.9,619.6 697.8,623.8"/>
<polyline points="681.3,555 695,557.8 704.6,563.3 707.4,568.8"/>
<polyline points="688.1,559.1 695,566 706,575.6"/>
<polyline points="685.4,583.9 697.8,583.9 707.4,585.3"/>
<polyline points="685.4,596.3 696.4,600.4 701.9,610"/>
<polyline points="678.5,607.3 695,616.9 699.1,623.8"/>
<polyline points="681.3,612.8 692.3,626.5 695,634.8"/>
<polyline points="682.6,616.9 690.9,632 692.3,638.9"/>
<polyline points="660.6,621 648.3,626.5 640,629.3"/>
<polyline points="675.8,629.3 677.1,637.5"/>
<polyline points="678.5,630.7 681.3,638.9"/>
<polyline points="667.5,634.8 668.9,643"/>
<polyline points="663.4,637.5 664.8,643"/>
<polyline points="656.5,638.9 657.9,645.8"/>
<polyline points="652.4,643 653.8,649.9"/>
<polyline points="646.9,645.8 648.3,651.3"/>
<polyline points="697.8,568.8 708.8,572.9"/>
<polyline points="695,575.6 707.4,581.1"/>
<polyline points="699.1,590.8 708.8,596.3"/>
<polyline points="688.1,621 697.8,629.3"/>
<polyline points="636.2,510 637.5,522.5 642.5,532.5 643.8,540 647.5,547.5 651.2,550 651.2,562.5"/>
<polyline points="647.5,510 643.8,522.5 643.8,535 647.5,545 651.2,548.8"/>
<polyline points="660,510 662.5,522.5 663.8,535 662.5,540 656.2,542.5 651.2,548.8"/>
<polyline points="680,510 675,525 672.5,535 673.8,542.5 672.5,547.5 665,551.2 660,557.5 652.5,561.2"/>
<polyline points="690,510 685,525 680,537.5 675,542.5"/>
<polyline points="651.2,562.5 658.8,561.2 666.2,565 675,571.2 682.5,582.5 690,585"/>
<polyline points="652.5,565 662.5,580 667.5,590 675,595 685,597.5"/>
<polyline points="651.2,566.2 651.2,582.5 652.5,597.5 656.2,610"/>
<polyline points="650,567.5 648.8,580 647.5,592.5 645,610"/>
<polyline points="650,566.2 643.8,577.5 637.5,590 628.8,602.5 623.8,610"/>
<polyline points="650,566.2 641.2,566.2 635,570 625,575 610,580"/>
<polyline points="641.2,566.2 625,585 617.5,597.5 610,605"/>
<polyline points="651.2,552.5 635,547.5 622.5,542.5 610,542.5"/>
<polyline points="610,512.5 617.5,522.5 622.5,526.2 632.5,545 635,547.5"/>
<polyline points="641.2,563.8 628.8,562.5 616.2,560 610,560"/>
<polyline points="672.5,547.5 682.5,550 690,550"/>
<polyline points="680,550 681.2,557.5 690,560"/>
</g>
<rect x="165" y="71" width="669" height="659" fill="none" stroke="#000" stroke-width="2"/>
<path d="M226.5,730V735M293.6,730V735M360.6,730V735M427.7,730V735M494.8,730V735M561.8,730V735M628.9,730V735M696,730V735M763.1,730V735M830.1,730V735M165,149.4H161M165,232.8H161M165,316.1H161M165,399.5H161M165,482.8H161M165,566.2H161M165,649.6H161" stroke="#000" stroke-width="1.2"/>
<g>
<text x="226.5" y="748" font-size="14.6" text-anchor="middle" textLength="37.5" lengthAdjust="spacingAndGlyphs">62.9W</text>
<text x="293.6" y="748" font-size="14.6" text-anchor="middle" textLength="47" lengthAdjust="spacingAndGlyphs">62.85W</text>
<text x="360.6" y="748" font-size="14.6" text-anchor="middle" textLength="37.5" lengthAdjust="spacingAndGlyphs">62.8W</text>
<text x="427.7" y="748" font-size="14.6" text-anchor="middle" textLength="47" lengthAdjust="spacingAndGlyphs">62.75W</text>
<text x="494.8" y="748" font-size="14.6" text-anchor="middle" textLength="37.5" lengthAdjust="spacingAndGlyphs">62.7W</text>
<text x="561.8" y="748" font-size="14.6" text-anchor="middle" textLength="47" lengthAdjust="spacingAndGlyphs">62.65W</text>
<text x="628.9" y="748" font-size="14.6" text-anchor="middle" textLength="37.5" lengthAdjust="spacingAndGlyphs">62.6W</text>
<text x="696" y="748" font-size="14.6" text-anchor="middle" textLength="47" lengthAdjust="spacingAndGlyphs">62.55W</text>
<text x="763.1" y="748" font-size="14.6" text-anchor="middle" textLength="37.5" lengthAdjust="spacingAndGlyphs">62.5W</text>
<text x="830.1" y="748" font-size="14.6" text-anchor="middle" textLength="47" lengthAdjust="spacingAndGlyphs">62.45W</text>
<text x="159" y="155.9" font-size="15.5" text-anchor="end" textLength="37.8" lengthAdjust="spacingAndGlyphs">17.4N</text>
<text x="159" y="239.3" font-size="15.5" text-anchor="end" textLength="46.5" lengthAdjust="spacingAndGlyphs">17.35N</text>
<text x="159" y="322.6" font-size="15.5" text-anchor="end" textLength="37.8" lengthAdjust="spacingAndGlyphs">17.3N</text>
<text x="159" y="406" font-size="15.5" text-anchor="end" textLength="46.5" lengthAdjust="spacingAndGlyphs">17.25N</text>
<text x="159" y="489.3" font-size="15.5" text-anchor="end" textLength="37.8" lengthAdjust="spacingAndGlyphs">17.2N</text>
<text x="159" y="572.7" font-size="15.5" text-anchor="end" textLength="46.5" lengthAdjust="spacingAndGlyphs">17.15N</text>
<text x="159" y="656.1" font-size="15.5" text-anchor="end" textLength="37.8" lengthAdjust="spacingAndGlyphs">17.1N</text>
</g>
<g stroke="#fff" stroke-width="0.45">
<text x="170.77" y="26.8" font-size="27" textLength="124.26" lengthAdjust="spacingAndGlyphs">Caribbean</text>
<text x="306.70" y="26.8" font-size="27" textLength="102.37" lengthAdjust="spacingAndGlyphs">Institute</text>
<text x="423.80" y="26.8" font-size="27" textLength="34.20" lengthAdjust="spacingAndGlyphs">for</text>
<text x="472.78" y="26.8" font-size="27" textLength="146.22" lengthAdjust="spacingAndGlyphs">Meteorology</text>
<text x="634.77" y="26.8" font-size="27" textLength="45.28" lengthAdjust="spacingAndGlyphs">and</text>
<text x="692.78" y="26.8" font-size="27" textLength="121.23" lengthAdjust="spacingAndGlyphs">Hydrology</text>
<text x="72.49" y="54.5" font-size="30.5" textLength="157.81" lengthAdjust="spacingAndGlyphs">Aggregated</text>
<text x="247.48" y="54.5" font-size="30.5" textLength="251.84" lengthAdjust="spacingAndGlyphs">precipitation(mm)</text>
<text x="517.43" y="54.5" font-size="30.5" textLength="58.48" lengthAdjust="spacingAndGlyphs">SKN</text>
<text x="591.48" y="54.5" font-size="30.5" textLength="66.86" lengthAdjust="spacingAndGlyphs">Valid</text>
<text x="674.50" y="54.5" font-size="30.5" textLength="52.80" lengthAdjust="spacingAndGlyphs">03Z</text>
<text x="745.48" y="54.5" font-size="30.5" textLength="90.84" lengthAdjust="spacingAndGlyphs">07/05</text>
<text x="853.46" y="54.5" font-size="30.5" textLength="72.86" lengthAdjust="spacingAndGlyphs">2024</text>
</g>
<g stroke="#000" stroke-width="1.3">
<polygon points="908.5,123.2 917.5,80.2 926.5,123.2" fill="#f00082"/>
<rect x="908.5" y="123.2" width="18" height="42.7" fill="#fa3c3c"/>
<rect x="908.5" y="165.9" width="18" height="42.7" fill="#f08228"/>
<rect x="908.5" y="208.6" width="18" height="42.7" fill="#e6af2d"/>
<rect x="908.5" y="251.3" width="18" height="42.7" fill="#e6dc32"/>
<rect x="908.5" y="294" width="18" height="42.7" fill="#a0e632"/>
<rect x="908.5" y="336.7" width="18" height="42.7" fill="#00dc00"/>
<rect x="908.5" y="379.4" width="18" height="42.7" fill="#00d28c"/>
<rect x="908.5" y="422.1" width="18" height="42.7" fill="#00c8c8"/>
<rect x="908.5" y="464.8" width="18" height="42.7" fill="#00a0ff"/>
<rect x="908.5" y="507.5" width="18" height="42.7" fill="#1e3cff"/>
<rect x="908.5" y="550.2" width="18" height="42.7" fill="#8200dc"/>
<rect x="908.5" y="592.9" width="18" height="42.7" fill="#a000c8"/>
<rect x="908.5" y="635.6" width="18" height="42.7" fill="#aaaaaa"/>
<polygon points="908.5,678.3 917.5,720.2 926.5,678.3" fill="#fff"/>
</g>
<g>
<text x="931.5" y="129.8" font-size="17.5" textLength="31.8" lengthAdjust="spacingAndGlyphs">250</text>
<text x="931.5" y="172.5" font-size="17.5" textLength="31.8" lengthAdjust="spacingAndGlyphs">220</text>
<text x="931.5" y="215.2" font-size="17.5" textLength="31.8" lengthAdjust="spacingAndGlyphs">180</text>
<text x="931.5" y="257.9" font-size="17.5" textLength="31.8" lengthAdjust="spacingAndGlyphs">140</text>
<text x="931.5" y="300.6" font-size="17.5" textLength="31.8" lengthAdjust="spacingAndGlyphs">110</text>
<text x="931.5" y="343.3" font-size="17.5" textLength="21.2" lengthAdjust="spacingAndGlyphs">80</text>
<text x="931.5" y="386" font-size="17.5" textLength="21.2" lengthAdjust="spacingAndGlyphs">50</text>
<text x="931.5" y="428.7" font-size="17.5" textLength="21.2" lengthAdjust="spacingAndGlyphs">30</text>
<text x="931.5" y="471.4" font-size="17.5" textLength="21.2" lengthAdjust="spacingAndGlyphs">25</text>
<text x="931.5" y="514.1" font-size="17.5" textLength="21.2" lengthAdjust="spacingAndGlyphs">20</text>
<text x="931.5" y="556.8" font-size="17.5" textLength="21.2" lengthAdjust="spacingAndGlyphs">15</text>
<text x="931.5" y="599.5" font-size="17.5" textLength="21.2" lengthAdjust="spacingAndGlyphs">10</text>
<text x="931.5" y="642.2" font-size="17.5" textLength="10.6" lengthAdjust="spacingAndGlyphs">5</text>
<text x="931.5" y="684.9" font-size="17.5" textLength="10.6" lengthAdjust="spacingAndGlyphs">1</text>
</g>
</svg></body></html>
